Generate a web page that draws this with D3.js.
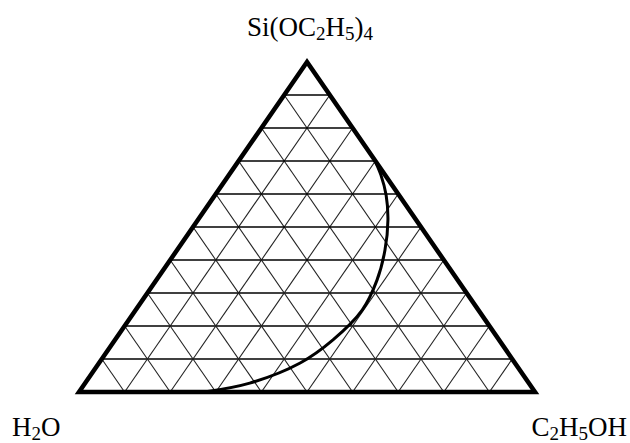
<!DOCTYPE html>
<html>
<head>
<meta charset="utf-8">
<script src="https://cdn.jsdelivr.net/npm/d3@7"></script>
<style>
html,body{margin:0;padding:0;background:#fff;}
svg{display:block;}
text{font-family:"Liberation Serif","Times New Roman",serif;fill:#000;}
</style>
</head>
<body>
<div id="chart"></div>
<script>
// Ternary diagram data (fractions)
const componentNames = ["Si(OC2H5)4", "H2O", "C2H5OH"];
const gridTicks = [0.1, 0.2, 0.3, 0.4, 0.5, 0.6, 0.7, 0.8, 0.9];
// binodal curve compositions
const curveTEOS = [0.000, 0.027, 0.088, 0.158, 0.248, 0.339, 0.430, 0.521, 0.597, 0.658, 0.703];
const curveEtOH = [0.275, 0.361, 0.441, 0.478, 0.497, 0.484, 0.456, 0.417, 0.375, 0.333, 0.297];
const curveH2O  = [0.725, 0.612, 0.471, 0.364, 0.255, 0.177, 0.114, 0.062, 0.028, 0.009, 0.000];

const W = 630, H = 443;
const svg = d3.select("#chart").append("svg").attr("width", W).attr("height", H);

// scales: y by TEOS fraction, x by (EtOH + TEOS/2)
const yScale = d3.scaleLinear().domain([0, 1]).range([392, 62]);
const xScale = d3.scaleLinear().domain([0, 1]).range([79, 535]);
function proj(t, e) { return [xScale(e + t * 0.5), yScale(t)]; }

const g = svg.append("g");

// grid lines
const gridLines = [];
gridTicks.forEach(k => {
  gridLines.push({type: "h", a: proj(k, 0), b: proj(k, 1 - k)});          // constant TEOS
  gridLines.push({type: "d", a: proj(0, k), b: proj(1 - k, k)});          // constant EtOH
  gridLines.push({type: "d", a: proj(0, 1 - k), b: proj(1 - k, 0)});      // constant H2O
});
g.selectAll("line.grid").data(gridLines).enter().append("line")
  .attr("class", "grid")
  .attr("x1", d => d.a[0]).attr("y1", d => d.a[1])
  .attr("x2", d => d.b[0]).attr("y2", d => d.b[1])
  .attr("stroke", d => d.type === "h" ? "#000" : "#222")
  .attr("stroke-width", d => d.type === "h" ? 1.6 : 1.1);

// outer triangle
const corners = [proj(1, 0), proj(0, 0), proj(0, 1)];
g.append("path")
  .attr("d", d3.line()(corners) + "Z")
  .attr("fill", "none").attr("stroke", "#000")
  .attr("stroke-width", 4.5).attr("stroke-linejoin", "miter");

// binodal curve (H2O = 1 - TEOS - EtOH, listed in curveH2O)
const curvePts = curveTEOS.map((t, i) => proj(t, curveEtOH[i]));
g.append("path")
  .attr("d", d3.line().curve(d3.curveCatmullRom.alpha(0.5))(curvePts))
  .attr("fill", "none").attr("stroke", "#000").attr("stroke-width", 3);

// labels with subscripts
function label(parts, x, y, anchor) {
  const t = svg.append("text").attr("x", x).attr("y", y)
    .attr("font-size", 27).attr("text-anchor", anchor);
  parts.forEach(p => {
    if (p.sub) {
      t.append("tspan").text(p.s).attr("font-size", 19).attr("dy", 4);
    } else {
      t.append("tspan").text(p.s).attr("dy", p.after ? -4 : 0);
    }
  });
  return t;
}
function parseFormula(str) {
  const parts = [];
  let prevSub = false;
  str.replace(/(\d+)|([^\d]+)/g, (m, num, txt) => {
    if (num) { parts.push({s: num, sub: true}); prevSub = true; }
    else { parts.push({s: txt, sub: false, after: prevSub}); prevSub = false; }
  });
  return parts;
}
label(parseFormula(componentNames[0]), 310, 36, "middle");
label(parseFormula(componentNames[1]), 12, 436, "start");
label(parseFormula(componentNames[2]), 627, 436, "end");
</script>
</body>
</html>
